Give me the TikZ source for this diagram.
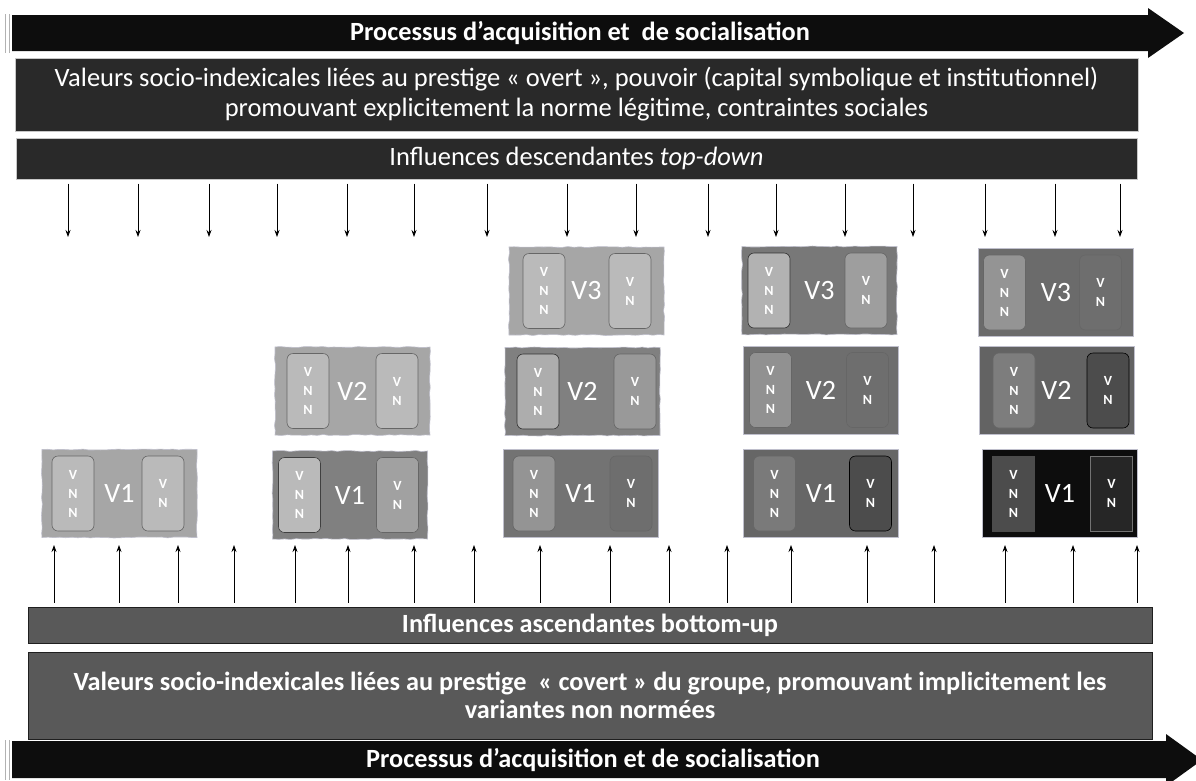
\documentclass[tikz,border=0pt]{standalone}
\usepackage{fontspec}
\setmainfont{Carlito}
\usetikzlibrary{positioning, arrows.meta, decorations.pathmorphing}

\begin{document}
\begin{tikzpicture}[x=1pt, y=-1pt,
        % Styles for the bands, the variant boxes and the arrows
        overt/.style={rectangle, fill=black!84, draw=black!22, line width=1pt, text=white, align=center, inner sep=0pt},
        covert/.style={rectangle, fill=black!65, draw=black!88, line width=1pt, text=white, align=center, inner sep=0pt, font=\bfseries\fontsize{26.3}{28}\selectfont},
        variant/.style={rectangle, draw=blue!20!black!25, line width=0.6pt, minimum width=155pt, minimum height=88pt, text=white, inner sep=0pt, font=\fontsize{28}{28}\selectfont},
        sketchy/.style={decorate, decoration={random steps, segment length=6pt, amplitude=0.5pt}},
        vnn/.style={rectangle, rounded corners=6pt, draw=black!60, line width=0.6pt, minimum width=42pt, minimum height=75pt, text=white, align=center, inner sep=0pt, font=\bfseries\fontsize{14}{19}\selectfont},
        influence/.style={-{Stealth[length=7pt, width=5pt]}, line width=0.8pt}
    ]
        \useasboundingbox (0,0) rectangle (1196,780);

        % --------------------------------------------------------
        % TOP: process arrow and overt prestige
        % --------------------------------------------------------
        \fill[black!95] (12,15) -- (1148,15) -- (1148,8) -- (1184,33) -- (1148,58) -- (1148,51) -- (12,51) -- cycle;
        \draw[black!30, line width=1pt] (5,14) -- (5,53) (9,14) -- (9,53);
        \node[text=white, font=\bfseries\fontsize{26.3}{28}\selectfont] (proctop) at (580,33) {Processus d’acquisition et\ \ de socialisation};

        \node[overt, minimum width=1123pt, minimum height=73pt, font=\fontsize{26.5}{30}\selectfont] (overt) at (576.5,94.5)
            {Valeurs socio-indexicales liées au prestige «~overt~», pouvoir (capital symbolique et institutionnel)\\promouvant explicitement la norme légitime, contraintes sociales};
        \node[overt, minimum width=1121pt, minimum height=41pt, font=\fontsize{26.5}{28}\selectfont, below=6pt of overt] (topdown) {Influences descendantes \textit{top-down}};

        \foreach \x in {68,138,209,277,347,414,487,567,636,708,776,845,913,985,1055,1120} {
            \coordinate (down\x) at (\x,237);
            \draw[influence, shorten <=4pt] (topdown.south -| down\x) -- (down\x);
        }

        % --------------------------------------------------------
        % Column 1
        % --------------------------------------------------------
        \node[variant, sketchy, fill=black!35] (c1v1) at (119.5,493.5) {V1};
        \node[vnn, fill=black!27, right=10pt of c1v1.west] (c1v1a) {V\\N\\N};
        \node[vnn, fill=black!27, left=13pt of c1v1.east] (c1v1b) {V\\N};

        % --------------------------------------------------------
        % Column 2
        % --------------------------------------------------------
        \node[variant, sketchy, fill=black!35] (c2v2) at (352.5,391) {V2};
        \node[vnn, fill=black!27, right=12pt of c2v2.west] (c2v2a) {V\\N\\N};
        \node[vnn, fill=black!27, left=12pt of c2v2.east] (c2v2b) {V\\N};

        \node[variant, sketchy, fill=black!50] (c2v1) at (350,495) {V1};
        \node[vnn, fill=black!27, draw=black!75, right=6pt of c2v1.west] (c2v1a) {V\\N\\N};
        \node[vnn, fill=black!37, left=9pt of c2v1.east] (c2v1b) {V\\N};

        % --------------------------------------------------------
        % Column 3
        % --------------------------------------------------------
        \node[variant, sketchy, fill=black!35] (c3v3) at (586.5,291) {V3};
        \node[vnn, fill=black!27, right=14pt of c3v3.west] (c3v3a) {V\\N\\N};
        \node[vnn, fill=black!27, left=13pt of c3v3.east] (c3v3b) {V\\N};

        \node[variant, sketchy, fill=black!50] (c3v2) at (582.5,391.5) {V2};
        \node[vnn, fill=black!32, draw=black!80, right=12pt of c3v2.west] (c3v2a) {V\\N\\N};
        \node[vnn, fill=black!40, left=4pt of c3v2.east] (c3v2b) {V\\N};

        \node[variant, fill=black!55] (c3v1) at (580.5,493.5) {V1};
        \node[vnn, fill=black!42, right=10pt of c3v1.west] (c3v1a) {V\\N\\N};
        \node[vnn, fill=black!57, left=6pt of c3v1.east] (c3v1b) {V\\N};

        % --------------------------------------------------------
        % Column 4
        % --------------------------------------------------------
        \node[variant, sketchy, fill=black!53] (c4v3) at (819.5,290.5) {V3};
        \node[vnn, fill=black!30, draw=black!80, right=6pt of c4v3.west] (c4v3a) {V\\N\\N};
        \node[vnn, fill=black!38, left=10pt of c4v3.east] (c4v3b) {V\\N};

        \node[variant, fill=black!57] (c4v2) at (821,390) {V2};
        \node[vnn, fill=black!43, right=6pt of c4v2.west] (c4v2a) {V\\N\\N};
        \node[vnn, fill=black!57, left=10pt of c4v2.east] (c4v2b) {V\\N};

        \node[variant, fill=black!60] (c4v1) at (821,493.5) {V1};
        \node[vnn, fill=black!52, right=10pt of c4v1.west] (c4v1a) {V\\N\\N};
        \node[vnn, fill=black!70, draw=black, right=106pt of c4v1.west] (c4v1b) {V\\N};

        % --------------------------------------------------------
        % Column 5
        % --------------------------------------------------------
        \node[variant, fill=black!58] (c5v3) at (1056,292.5) {V3};
        \node[vnn, fill=black!42, right=5pt of c5v3.west] (c5v3a) {V\\N\\N};
        \node[vnn, fill=black!57, left=12pt of c5v3.east] (c5v3b) {V\\N};

        \node[variant, fill=black!61] (c5v2) at (1056.5,390.5) {V2};
        \node[vnn, fill=black!51, right=14pt of c5v2.west] (c5v2a) {V\\N\\N};
        \node[vnn, fill=black!70, draw=black, left=5pt of c5v2.east] (c5v2b) {V\\N};

        \node[variant, fill=black!95] (c5v1) at (1060,493.5) {V1};
        \node[vnn, rounded corners=0pt, fill=black!70, draw=black!70, right=10pt of c5v1.west] (c5v1a) {V\\N\\N};
        \node[vnn, rounded corners=0pt, fill=black!85, draw=black!55, left=5pt of c5v1.east] (c5v1b) {V\\N};

        % --------------------------------------------------------
        % BOTTOM: covert prestige and process arrow
        % --------------------------------------------------------
        \node[covert, minimum width=1124pt, minimum height=36pt] (bottomup) at (590,625) {Influences ascendantes bottom-up};
        \node[covert, minimum width=1124pt, minimum height=87pt, below=8pt of bottomup] (covert)
            {Valeurs socio-indexicales liées au prestige\ \ «~covert~» du groupe, promouvant implicitement les\\variantes non normées};

        \foreach \x in {54,119,178,234,295,348,414,474,540,610,669,727,791,867,934,1005,1073,1137} {
            \coordinate (up\x) at (\x,545);
            \draw[influence, shorten <=4pt] (bottomup.north -| up\x) -- (up\x);
        }

        \fill[black!95] (12,741) -- (1166,741) -- (1166,734) -- (1202,760) -- (1166,786) -- (1166,778) -- (12,778) -- cycle;
        \draw[black!30, line width=1pt] (5,740) -- (5,780) (9,740) -- (9,780);
        \node[text=white, font=\bfseries\fontsize{26.3}{28}\selectfont] (procbottom) at (593,760) {Processus d’acquisition et de socialisation};

    \end{tikzpicture}
\end{document}
